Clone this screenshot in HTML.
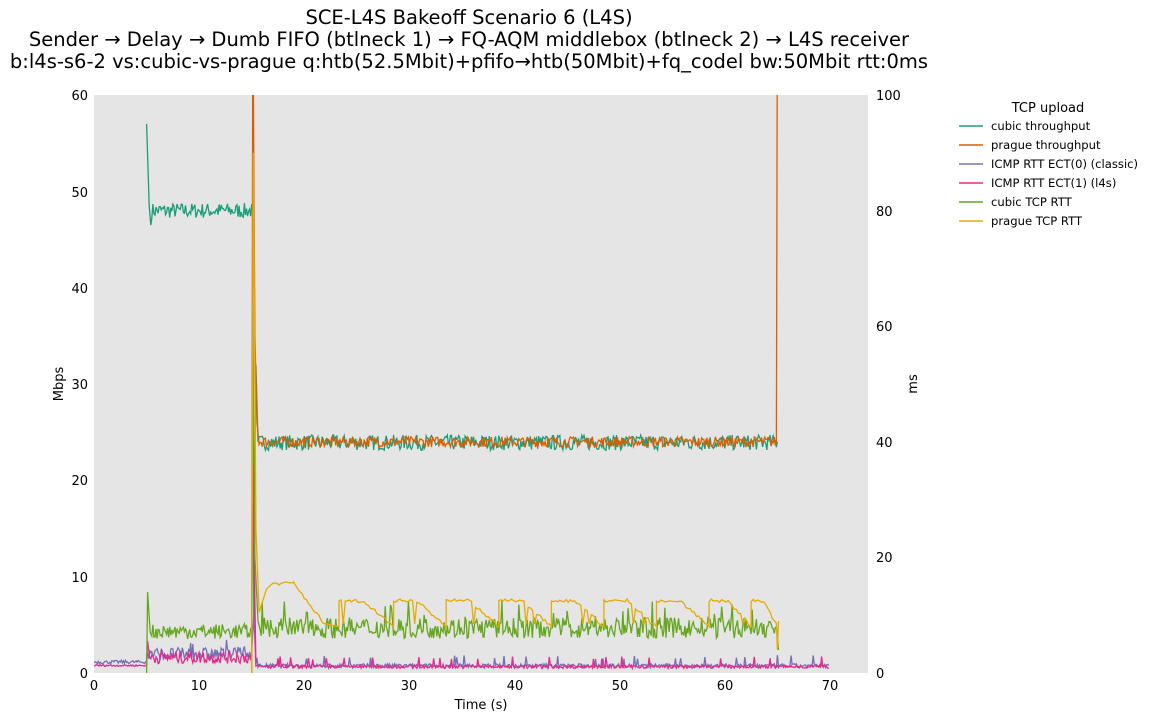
<!DOCTYPE html>
<html><head><meta charset="utf-8"><style>
body{margin:0;background:#fff;font-family:"Liberation Sans","DejaVu Sans",sans-serif}
</style></head><body>
<svg id="s" width="1153" height="721" xmlns="http://www.w3.org/2000/svg" font-family="'DejaVu Sans','Liberation Sans',sans-serif">
<text x="469" y="24" font-size="19.5" text-anchor="middle">SCE-L4S Bakeoff Scenario 6 (L4S)</text>
<text x="469" y="46" font-size="19.5" text-anchor="middle">Sender → Delay → Dumb FIFO (btlneck 1) → FQ-AQM middlebox (btlneck 2) → L4S receiver</text>
<text x="469" y="68" font-size="19.5" text-anchor="middle">b:l4s-s6-2 vs:cubic-vs-prague q:htb(52.5Mbit)+pfifo→htb(50Mbit)+fq_codel bw:50Mbit rtt:0ms</text>
<rect x="94" y="95" width="774" height="578" fill="#e5e5e5"/>
<g id="lines" fill="none" stroke-width="1.3" clip-path="url(#c)"></g>
<defs><clipPath id="c"><rect x="94" y="95" width="774" height="578"/></clipPath></defs>
<g font-size="13" text-anchor="end">
<text x="88" y="678">0</text><text x="88" y="582">10</text><text x="88" y="485">20</text><text x="88" y="389">30</text><text x="88" y="293">40</text><text x="88" y="197">50</text><text x="88" y="100">60</text>
</g>
<g font-size="13" text-anchor="start">
<text x="876" y="678">0</text><text x="876" y="562">20</text><text x="876" y="447">40</text><text x="876" y="331">60</text><text x="876" y="216">80</text><text x="876" y="100">100</text>
</g>
<g font-size="13" text-anchor="middle">
<text x="94" y="690">0</text><text x="199" y="690">10</text><text x="304" y="690">20</text><text x="409" y="690">30</text><text x="515" y="690">40</text><text x="620" y="690">50</text><text x="725" y="690">60</text><text x="830" y="690">70</text>
<text x="481" y="709">Time (s)</text>
</g>
<text transform="translate(63,384) rotate(-90)" font-size="13" text-anchor="middle">Mbps</text>
<text transform="translate(917,384) rotate(-90)" font-size="13" text-anchor="middle">ms</text>
<g font-size="11.6">
<text x="1048" y="112" font-size="13" text-anchor="middle">TCP upload</text>
<line x1="959" y1="126" x2="983" y2="126" stroke="#1b9e77" stroke-width="1.5"/><text x="991" y="130">cubic throughput</text>
<line x1="959" y1="145" x2="983" y2="145" stroke="#d95f02" stroke-width="1.5"/><text x="991" y="149">prague throughput</text>
<line x1="959" y1="164" x2="983" y2="164" stroke="#7570b3" stroke-width="1.5"/><text x="991" y="168">ICMP RTT ECT(0) (classic)</text>
<line x1="959" y1="183" x2="983" y2="183" stroke="#e7298a" stroke-width="1.5"/><text x="991" y="187">ICMP RTT ECT(1) (l4s)</text>
<line x1="959" y1="202" x2="983" y2="202" stroke="#66a61e" stroke-width="1.5"/><text x="991" y="206">cubic TCP RTT</text>
<line x1="959" y1="221" x2="983" y2="221" stroke="#e6ab02" stroke-width="1.5"/><text x="991" y="225">prague TCP RTT</text>
</g>
</svg>
<script>
var seed=7;function r(){seed=(seed*16807)%2147483647;return seed/2147483647;}
function X(t){return 94+t*10.514}
function L(v){return 673-v*9.633}
function R(v){return 673-v*5.78}
function add(pts,col){var p=document.createElementNS("http://www.w3.org/2000/svg","polyline");
p.setAttribute("points",pts.map(function(a){return a[0].toFixed(1)+","+a[1].toFixed(1)}).join(" "));
p.setAttribute("stroke",col);document.getElementById("lines").appendChild(p);}
var dt=0.1,a,t,v;
a=[[X(5),L(57)],[X(5.25),L(48.5)],[X(5.4),L(46.5)]];
for(t=5.5;t<15;t+=dt)a.push([X(t),L(48+(r()-0.5)*1.6)]);
a.push([X(15.1),L(48)],[X(15.2),L(5)],[X(15.4),L(32)],[X(15.6),L(24)]);
for(t=15.7;t<65;t+=dt)a.push([X(t),L(24+(r()-0.55)*1.6)]);
a.push([X(65),L(24)]);add(a,"#1b9e77");
a=[[X(15),L(0)],[X(15.1),L(70)],[X(15.3),L(35)],[X(15.5),L(26)]];
for(t=15.7;t<65;t+=dt)a.push([X(t),L(24+(r()-0.5)*1.1)]);
a.push([X(64.9),L(24)],[X(65),L(70)]);add(a,"#d95f02");
a=[];for(t=0;t<5;t+=dt)a.push([X(t),R(1.9+(r()-0.5)*0.6)]);
for(t=5;t<15;t+=dt)a.push([X(t),R(2.2+r()*2.2+(r()<0.05?1.5:0))]);
a.push([X(15.2),R(10)]);
for(t=15.4;t<70;t+=dt)a.push([X(t),R(0.9+r()*0.7+(r()<0.04?1.5:0))]);
add(a,"#7570b3");
a=[];for(t=0;t<5;t+=dt)a.push([X(t),R(1.3+(r()-0.5)*0.3)]);
a.push([X(5.1),R(5.5)]);
for(t=5.3;t<15;t+=dt)a.push([X(t),R(1.6+r()*2.2)]);
a.push([X(15.1),R(36)],[X(15.4),R(1.2)]);
for(t=15.5;t<70;t+=dt)a.push([X(t),R(0.8+r()*0.6+(r()<0.03?1.5:0))]);
add(a,"#e7298a");
a=[[X(5),R(0)],[X(5.1),R(14)],[X(5.35),R(7)]];
for(t=5.5;t<15;t+=dt)a.push([X(t),R(7.2+(r()-0.5)*2.6)]);
a.push([X(15.1),R(58)],[X(15.3),R(20)],[X(15.6),R(9)]);
for(t=15.8;t<65;t+=dt)a.push([X(t),R(7.8+(r()-0.5)*3.6+(r()<0.05?3:0))]);
a.push([X(65.1),R(4)]);add(a,"#66a61e");
a=[[X(15),R(0)],[X(15.15),R(90)],[X(15.4),R(25)],[X(15.7),R(10.5)],[X(16.4),R(14.5)],[X(17),R(15.5)]];
for(t=17;t<19;t+=0.2)a.push([X(t),R(15.5+(r()-0.5)*0.6)]);
for(t=19;t<22;t+=0.2)a.push([X(t),R(15.5-(t-19)*2.4+(r()-0.5)*0.6)]);
var starts=[23.3,28.5,33.5,38.5,43.5,48.5,53.5,58.5,62.5];
for(var i=0;i<starts.length;i++){var s=starts[i],e=(i+1<starts.length?starts[i+1]:65);
 a.push([X(s),R(8)]);for(t=s;t<e;t+=0.2){var f=(t-s)/(e-s);v=12.5-(f>0.45?(f-0.45)/0.55*4.5:0)+(r()-0.5)*0.6;if(r()<0.06)v=8.5;a.push([X(t),R(v)]);}}
a.push([X(65),R(4)],[X(65.1),R(9)]);add(a,"#e6ab02");
</script>
</body></html>
